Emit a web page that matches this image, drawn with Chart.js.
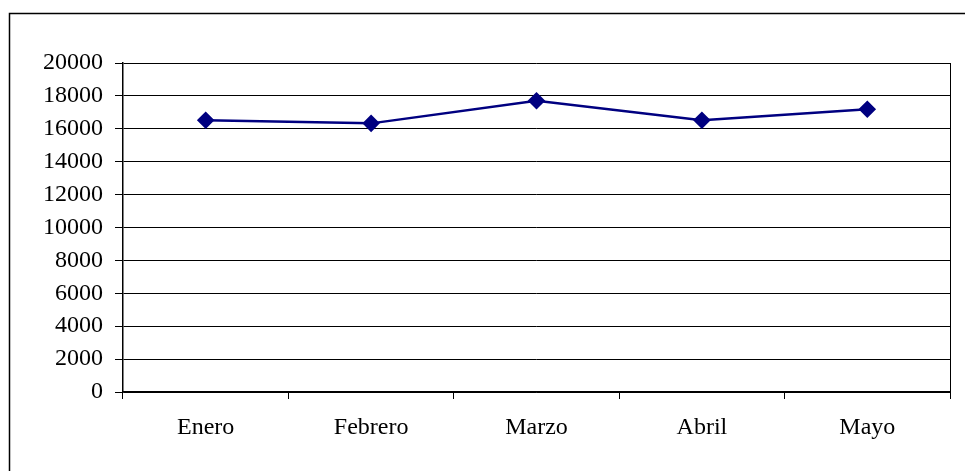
<!DOCTYPE html>
<html lang="es">
<head>
  <meta charset="UTF-8">
  <title>Enero - Mayo</title>
  <script src="https://cdn.jsdelivr.net/npm/chart.js"></script>
  <style>
    html, body { margin: 0; padding: 0; background: #fff; }
    #wrap { width: 965px; height: 471px; }
  </style>
</head>
<body>
  <div id="wrap"><canvas id="chartCanvas" width="965" height="471"></canvas></div>

  <script>
    const months = ['Enero', 'Febrero', 'Marzo', 'Abril', 'Mayo'];
    const values = [16520, 16330, 17710, 16520, 17190];
    const yTicks = [0, 2000, 4000, 6000, 8000, 10000, 12000, 14000, 16000, 18000, 20000];

    // frame around the whole chart and the right side of the plot box
    const frames = {
      id: 'frames',
      beforeDraw(chart) {
        const ctx = chart.ctx;
        ctx.save();
        ctx.fillStyle = '#fff';
        ctx.fillRect(0, 0, chart.width, chart.height);
        ctx.strokeStyle = '#000';
        ctx.lineWidth = 1.5;
        ctx.strokeRect(9.5, 13.5, chart.width + 20, chart.height + 20);
        ctx.restore();
      },
      afterDraw(chart) {
        const a = chart.chartArea;
        const ctx = chart.ctx;
        ctx.save();
        ctx.strokeStyle = '#000';
        ctx.lineWidth = 1;
        ctx.beginPath();
        ctx.moveTo(Math.round(a.right) + 0.5, a.top);
        ctx.lineTo(Math.round(a.right) + 0.5, a.bottom + 7);
        ctx.stroke();
        ctx.restore();
      }
    };

    const serif = '"Liberation Serif", "Times New Roman", serif';

    const ctx = document.getElementById('chartCanvas').getContext('2d');
    new Chart(ctx, {
      type: 'line',
      data: {
        labels: months,
        datasets: [{
          label: 'Serie1',
          data: values,
          borderColor: '#000080',
          backgroundColor: '#000080',
          borderWidth: 2.5,
          pointStyle: 'rectRot',
          pointRadius: 7,
          pointHoverRadius: 7,
          tension: 0,
          fill: false
        }]
      },
      options: {
        responsive: false,
        animation: false,
        layout: { padding: { left: 0, top: 63, right: 15, bottom: 0 } },
        plugins: {
          legend: { display: false },
          tooltip: { enabled: false }
        },
        scales: {
          x: {
            offset: true,
            grid: {
              offset: true,
              drawOnChartArea: false,
              color: '#000',
              tickLength: 7,
              tickColor: '#000'
            },
            border: { color: '#000', width: 1.5 },
            ticks: {
              color: '#000',
              padding: 14,
              maxRotation: 0,
              font: { family: serif, size: 24 }
            },
            afterFit(scale) { scale.height = 79; }
          },
          y: {
            min: 0,
            max: 20000,
            afterBuildTicks(scale) { scale.ticks = yTicks.map(v => ({ value: v })); },
            grid: {
              color: '#000',
              lineWidth: 1,
              tickLength: 8,
              tickColor: '#000'
            },
            border: { color: '#000', width: 1.5 },
            ticks: {
              color: '#000',
              padding: 12,
              font: { family: serif, size: 24 },
              callback: v => String(v)
            },
            afterFit(scale) { scale.width = 123; }
          }
        }
      },
      plugins: [frames]
    });
  </script>
</body>
</html>
